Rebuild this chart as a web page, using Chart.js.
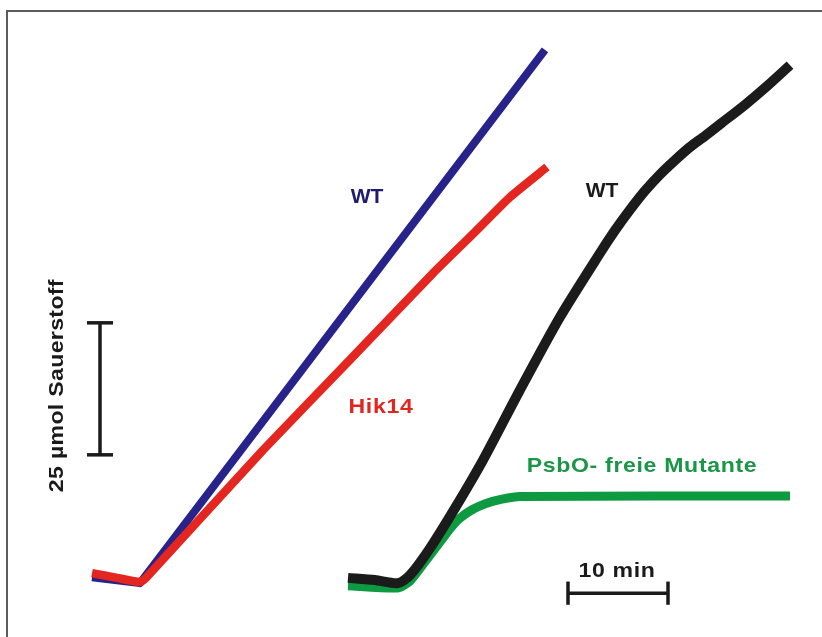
<!DOCTYPE html>
<html>
<head>
<meta charset="utf-8">
<script src="https://cdn.jsdelivr.net/npm/chart.js@4/dist/chart.umd.min.js"></script>
<style>
  html, body { margin: 0; padding: 0; background: #fff; overflow: hidden; }
  #wrap { position: relative; width: 822px; height: 637px; }
  #frame { position: absolute; left: 6px; top: 10px; width: 900px; height: 700px;
           border-left: 2px solid #5b5b5b; border-top: 2px solid #5b5b5b; pointer-events: none; }
  canvas { position: absolute; left: 0; top: 0; }
</style>
</head>
<body>
<div id="wrap">
  <canvas id="c" width="822" height="637"></canvas>
  <div id="frame"></div>
</div>
<script>
// Oxygen evolution traces: time in minutes, oxygen in µmol.
const wtLightTime   = [9.2, 14.0, 54.5];
const wtLightO2     = [11.3, 10.2, 111.2];

const hik14Time     = [9.2, 11.7, 14.0, 14.6, 26.3, 35.0, 43.3, 47.5, 51.0, 54.7];
const hik14O2       = [12.1, 11.2, 10.4, 11.2, 35.4, 52.5, 68.9, 76.7, 83.3, 89.0];

const wtTime        = [34.8, 37.5, 39.8, 41.0, 43.0, 45.5, 48.3, 52.0, 56.0, 60.0, 61.5,
                       63.0, 64.5, 66.0, 67.5, 69.0, 70.5, 72.2, 74.5, 76.8, 79.0];
const wtO2          = [11.2, 10.8, 10.2, 11.7, 16.8, 24.4, 33.5, 46.8, 60.6, 72.7, 77.0,
                       80.9, 84.5, 87.6, 90.3, 92.8, 94.9, 97.4, 100.8, 104.5, 108.3];

const psbOTime      = [34.8, 39.8, 41.0, 43.0, 44.0, 45.0, 46.0, 47.2, 48.6, 50.2, 52.0, 79.0];
const psbOO2        = [9.7, 9.3, 10.6, 15.5, 18.0, 20.5, 22.5, 24.1, 25.3, 26.1, 26.6, 26.7];

// Scale bars: 25 µmol oxygen and 10 minutes
const o2BarTime     = 10.0;
const o2BarRange    = [34.5, 59.5];
const timeBarRange  = [56.8, 66.8];
const timeBarO2     = 8.3;

// Text labels: [text, time, oxygen, colour]
const labels = [
  ['WT', 36.7, 82.2, '#1f1c70'],
  ['Hik14', 38.1, 42.4, '#e0261f'],
  ['WT', 60.2, 83.3, '#1a1a1a'],
  ['PsbO- freie Mutante', 64.2, 31.3, '#1a9646'],
  ['10 min', 61.7, 11.4, '#1a1a1a']
];
const axisLabel = '25 µmol Sauerstoff';

const pts = (xs, ys) => xs.map((x, i) => ({ x, y: ys[i] }));

const barColor = '#1a1a1a';
function bar(data) {
  return { data, borderColor: barColor, borderWidth: 3.5, pointRadius: 0, order: 0,
           tension: 0, borderCapStyle: 'butt', fill: false };
}
// higher order values are painted first, i.e. underneath
function trace(data, color, width, tension, order) {
  return { data, borderColor: color, borderWidth: width, pointRadius: 0, fill: false,
           borderCapStyle: 'butt', borderJoinStyle: 'round', tension, order };
}

function drawWide(ctx, text, spacing) {
  ctx.save();
  ctx.scale(1.1, 1);
  ctx.letterSpacing = spacing;
  ctx.fillText(text, 0, 0);
  ctx.restore();
}

const textPlugin = {
  id: 'traceLabels',
  afterDatasetsDraw(chart) {
    const { ctx, scales: { x, y } } = chart;
    ctx.save();
    ctx.font = 'bold 21px "Liberation Sans", Arial, sans-serif';
    ctx.textAlign = 'center';
    ctx.textBaseline = 'alphabetic';
    labels.forEach(([t, tx, ty, col]) => {
      ctx.save();
      ctx.fillStyle = col;
      ctx.translate(x.getPixelForValue(tx), y.getPixelForValue(ty));
      if (t === 'WT') { ctx.fillText(t, 0, 0); } else { drawWide(ctx, t, '0.6px'); }
      ctx.restore();
    });
    // vertical caption beside the oxygen scale bar
    ctx.fillStyle = '#1a1a1a';
    ctx.translate(x.getPixelForValue(6.3), y.getPixelForValue(47.6));
    ctx.rotate(-Math.PI / 2);
    drawWide(ctx, axisLabel, '0.3px');
    ctx.restore();
  }
};

new Chart(document.getElementById('c'), {
  type: 'line',
  data: {
    datasets: [
      trace(pts(wtLightTime, wtLightO2), '#27238a', 8, 0, 4),
      trace(pts(hik14Time, hik14O2), '#e3261f', 8.5, 0.15, 3),
      trace(pts(psbOTime, psbOO2), '#0d9a40', 9, 0.2, 2),
      trace(pts(wtTime, wtO2), '#1b1b1b', 10, 0.25, 1),
      bar([{ x: o2BarTime, y: o2BarRange[0] }, { x: o2BarTime, y: o2BarRange[1] }]),
      bar([{ x: o2BarTime - 1.3, y: o2BarRange[0] }, { x: o2BarTime + 1.3, y: o2BarRange[0] }]),
      bar([{ x: o2BarTime - 1.3, y: o2BarRange[1] }, { x: o2BarTime + 1.3, y: o2BarRange[1] }]),
      bar([{ x: timeBarRange[0], y: timeBarO2 }, { x: timeBarRange[1], y: timeBarO2 }]),
      bar([{ x: timeBarRange[0], y: timeBarO2 - 2.2 }, { x: timeBarRange[0], y: timeBarO2 + 2.2 }]),
      bar([{ x: timeBarRange[1], y: timeBarO2 - 2.2 }, { x: timeBarRange[1], y: timeBarO2 + 2.2 }])
    ]
  },
  options: {
    responsive: false,
    animation: false,
    layout: { padding: 0 },
    plugins: { legend: { display: false }, tooltip: { enabled: false } },
    scales: {
      x: { type: 'linear', min: 0, max: 82.2, display: false },
      y: { type: 'linear', min: 0, max: 120.64, display: false }
    }
  },
  plugins: [textPlugin]
});
</script>
</body>
</html>
